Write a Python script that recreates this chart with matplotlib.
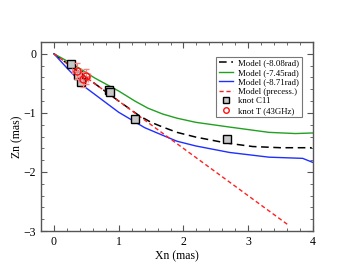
import matplotlib
matplotlib.use("Agg")
import matplotlib.pyplot as plt
from matplotlib.ticker import MultipleLocator

plt.rcParams['font.family'] = ['Liberation Serif', 'DejaVu Serif']

# Model curves
x_m808 = [0, 0.5, 1.0, 1.32, 1.5, 1.68, 1.9, 2.19, 2.66, 3.07, 3.5, 3.98]
y_m808 = [0, -0.40, -0.80, -1.05, -1.16, -1.24, -1.33, -1.41, -1.51, -1.57, -1.59, -1.59]

x_m745 = [0, 0.3, 0.63, 1.0, 1.25, 1.45, 1.68, 1.9, 2.19, 2.71, 3.32, 3.73, 4.0]
y_m745 = [0, -0.18, -0.41, -0.63, -0.80, -0.92, -1.02, -1.09, -1.16, -1.24, -1.33, -1.35, -1.34]

x_m871 = [0, 0.2, 0.5, 1.0, 1.17, 1.4, 1.68, 1.9, 2.19, 2.71, 3.32, 3.84, 4.0]
y_m871 = [0, -0.24, -0.58, -0.99, -1.10, -1.25, -1.38, -1.48, -1.56, -1.67, -1.75, -1.77, -1.84]

x_prec = [0, 3.62]
y_prec = [0, -2.90]

# knots
x_c11 = [0.27, 0.37, 0.41, 0.85, 0.87, 1.25, 2.67]
y_c11 = [-0.17, -0.36, -0.47, -0.61, -0.64, -1.11, -1.44]

x_t = [0.35, 0.45, 0.49]
y_t = [-0.29, -0.43, -0.38]
xerr_t = [0.07, 0.07, 0.07]
yerr_t = [0.13, 0.13, 0.13]

fig = plt.figure(figsize=(3.53, 2.73), dpi=100)
ax = fig.add_axes([41/353, 1 - 231/273, (313-41)/353, (231-42)/273])

ax.plot(x_m808, y_m808, color='black', ls=(0, (5, 3)), lw=1.1, label='Model (-8.08rad)')
ax.plot(x_m745, y_m745, color='#22a022', lw=1.0, label='Model (-7.45rad)')
ax.plot(x_m871, y_m871, color='#1f2fff', lw=1.0, label='Model (-8.71rad)')
ax.plot(x_prec, y_prec, color='#ff2020', ls=(0, (3, 2)), lw=1.0, label='Model (precess.)')
ax.plot(x_c11, y_c11, ls='none', marker='s', ms=6, mfc='#c8c8c8', mec='black', mew=1.0,
        label='knot C11')
ax.errorbar(x_t, y_t, xerr=xerr_t, yerr=yerr_t, fmt='none', ecolor='#ff8080', elinewidth=0.8,
            capsize=2)
ax.plot(x_t, y_t, ls='none', marker='o', ms=5, mfc='none', mec='#ff1010', mew=1.0,
        label='knot T (43GHz)')

ax.set_xlim(-0.2, 4)
ax.set_ylim(-3, 0.2)
ax.xaxis.set_major_locator(MultipleLocator(1))
ax.xaxis.set_minor_locator(MultipleLocator(0.2))
ax.yaxis.set_major_locator(MultipleLocator(1))
ax.yaxis.set_minor_locator(MultipleLocator(0.2))
ax.tick_params(which='both', direction='in', top=True, right=True, labelsize=8.5, color='#555555')
ax.tick_params(which='major', length=4)
ax.tick_params(which='minor', length=2)
for s in ax.spines.values():
    s.set_color('#555555')
    s.set_linewidth(1.0)

ax.set_xlabel('Xn (mas)', fontsize=8.5, labelpad=2)
ax.set_ylabel('Zn (mas)', fontsize=8.5, labelpad=0)

leg = ax.legend(loc='upper right', fontsize=6.3, frameon=True, fancybox=False,
                edgecolor='#555555', handlelength=1.6, borderpad=0.3, labelspacing=0.15,
                handletextpad=0.6, bbox_to_anchor=(0.975, 0.945), markerscale=0.8)
leg.get_frame().set_linewidth(0.8)

fig.savefig('out.png', dpi=100)
